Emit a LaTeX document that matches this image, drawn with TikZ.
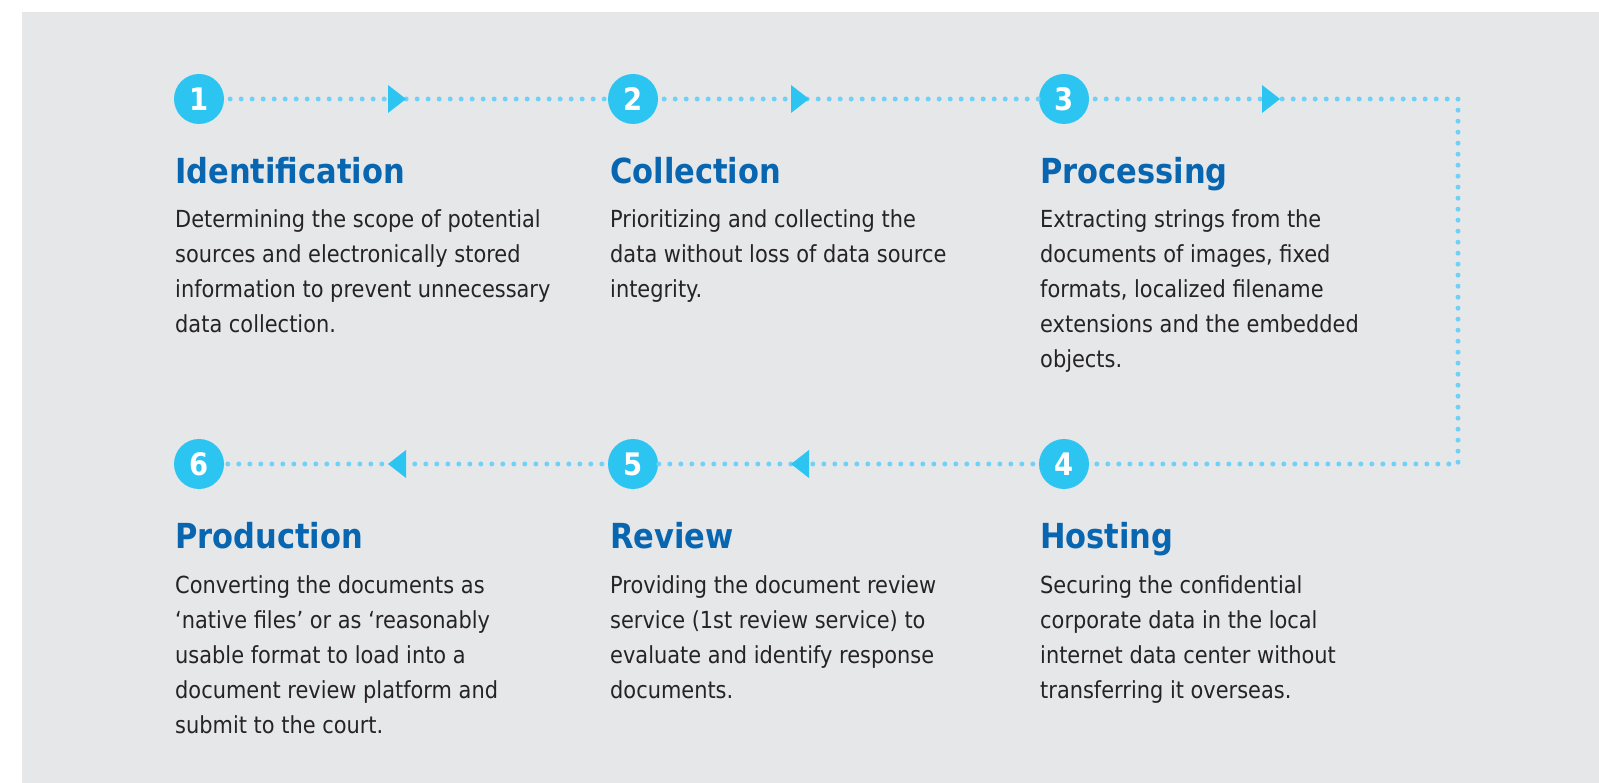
\documentclass[tikz,border=0pt]{standalone}
\usepackage{fontspec}
\setmainfont[FakeStretch=0.89]{DejaVu Sans}
\newfontfamily\headfont[FakeStretch=0.885]{DejaVu Sans}
\definecolor{bgc}{HTML}{E6E7E9}
\definecolor{circc}{HTML}{2CC5F2}
\definecolor{dotc}{HTML}{6FD1F7}
\definecolor{titlec}{HTML}{0866B1}
\definecolor{textc}{HTML}{262324}
\newcommand\bodylines[1]{\vtop{\baselineskip=35pt\lineskiplimit=-50pt #1}}
\tikzset{
  numc/.style={circle,fill=circc,text=white,minimum size=50pt,inner sep=0pt,
    font=\headfont\fontsize{31}{34}\selectfont\bfseries},
  dotline/.style={draw=dotc,line width=5pt,line cap=round,dash pattern=on 0pt off 11pt,dash phase=5pt},
  titletext/.style={anchor=base west,inner sep=0pt,text=titlec,
    font=\headfont\fontsize{34.5}{40}\selectfont\bfseries},
  bodytext/.style={anchor=base west,inner sep=0pt,text=textc,
    font=\fontsize{23.5}{35}\selectfont},
  tri/.style={fill=circc}
}
\begin{document}
\begin{tikzpicture}[x=1pt,y=-1pt]
\useasboundingbox (0,0) rectangle (1599,783);
\fill[bgc] (22,12) rectangle (1599,783);

% step circles
\node[numc] (c1) at (199,99) {1};
\node[numc] (c2) at (633,99) {2};
\node[numc] (c3) at (1064,99) {3};
\node[numc] (c4) at (1064,464) {4};
\node[numc] (c5) at (633,464) {5};
\node[numc] (c6) at (199,464) {6};
\coordinate (k1) at (1458,99);
\coordinate (k2) at (1458,464);

% dotted connectors
\draw[dotline] (c1) -- (c2);
\draw[dotline] (c2) -- (c3);
\draw[dotline] (c3) -- (k1) -- (k2) -- (c4);
\draw[dotline] (c4) -- (c5);
\draw[dotline] (c5) -- (c6);

% arrow heads on connectors
\fill[tri] (406,99) -- (388,85) -- (388,113) -- cycle;
\fill[tri] (809,99) -- (791,85) -- (791,113) -- cycle;
\fill[tri] (1280,99) -- (1262,85) -- (1262,113) -- cycle;
\fill[tri] (791,464) -- (809,450) -- (809,478) -- cycle;
\fill[tri] (388,464) -- (406,450) -- (406,478) -- cycle;

% titles
\node[titletext] (t1) at (175,184) {Identification};
\node[titletext] (t2) at (610,184) {Collection};
\node[titletext] (t3) at (1040,184) {Processing};
\node[titletext] (t6) at (175,548) {Production};
\node[titletext] (t5) at (610,548) {Review};
\node[titletext] (t4) at (1040,548) {Hosting};

% descriptions
\node[bodytext] (b1) at (175,228) {\bodylines{%
  \hbox{Determining the scope of potential}
  \hbox{sources and electronically stored}
  \hbox{information to prevent unnecessary}
  \hbox{data collection.}}};
\node[bodytext] (b2) at (610,228) {\bodylines{%
  \hbox{Prioritizing and collecting the}
  \hbox{data without loss of data source}
  \hbox{integrity.}}};
\node[bodytext] (b3) at (1040,228) {\bodylines{%
  \hbox{Extracting strings from the}
  \hbox{documents of images, fixed}
  \hbox{formats, localized filename}
  \hbox{extensions and the embedded}
  \hbox{objects.}}};
\node[bodytext] (b6) at (175,593) {\bodylines{%
  \hbox{Converting the documents as}
  \hbox{‘native files’ or as ‘reasonably}
  \hbox{usable format to load into a}
  \hbox{document review platform and}
  \hbox{submit to the court.}}};
\node[bodytext] (b5) at (610,593) {\bodylines{%
  \hbox{Providing the document review}
  \hbox{service (1st review service) to}
  \hbox{evaluate and identify response}
  \hbox{documents.}}};
\node[bodytext] (b4) at (1040,593) {\bodylines{%
  \hbox{Securing the confidential}
  \hbox{corporate data in the local}
  \hbox{internet data center without}
  \hbox{transferring it overseas.}}};
\end{tikzpicture}
\end{document}
